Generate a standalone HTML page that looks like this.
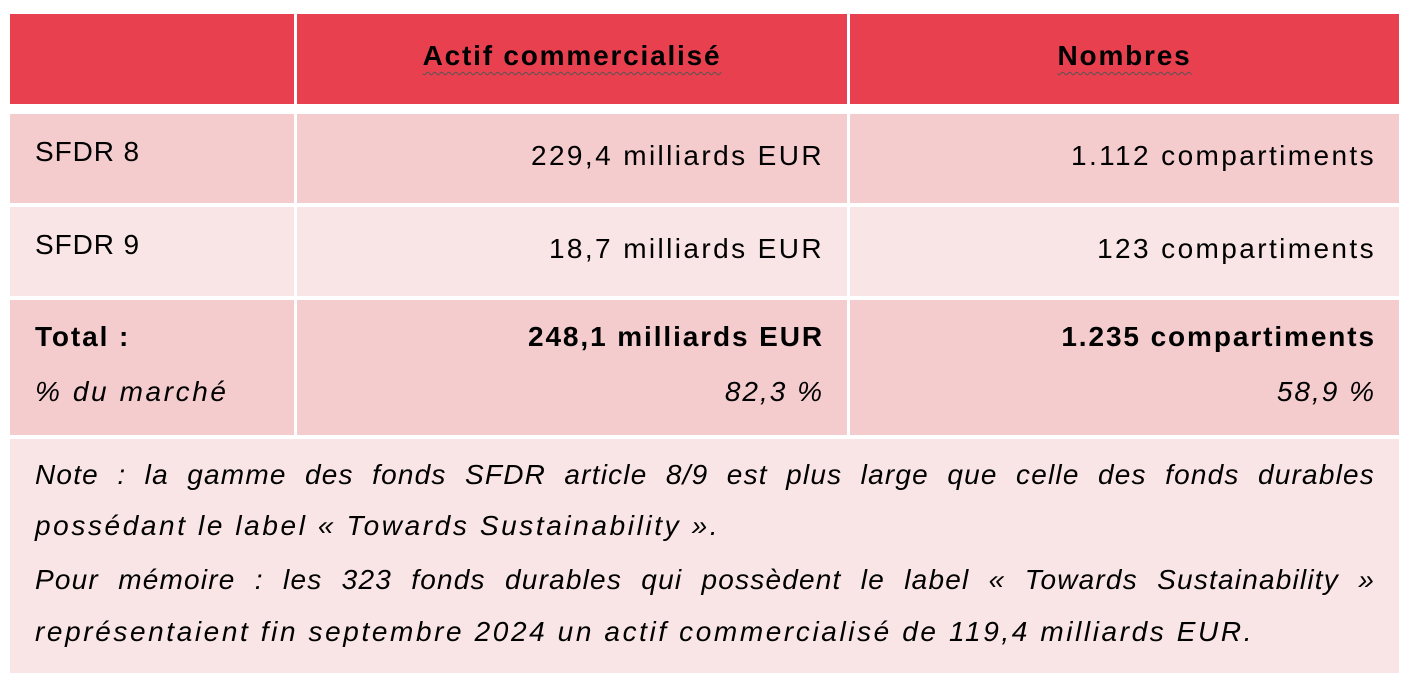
<!DOCTYPE html>
<html><head><meta charset="utf-8"><style>
body{margin:0;width:1407px;height:685px;background:#fff;position:relative;overflow:hidden;font-family:"Liberation Sans",sans-serif;color:#000}
.c{position:absolute;box-sizing:border-box}
.h{background:#E8404E}
.d{background:#F4CCCE}
.l{background:#F9E5E6}
.t{position:absolute;font-size:28px;letter-spacing:2.4px;white-space:nowrap;line-height:32px}
.r{text-align:right}
.u{text-decoration:underline wavy #555 1px;text-underline-offset:6px;font-weight:bold;letter-spacing:1.8px}
.j{position:absolute;left:35px;width:1340px;font-size:28px;letter-spacing:1.2px;line-height:32px;font-style:italic;text-align:justify;text-align-last:justify;white-space:nowrap}
.b{font-weight:bold;letter-spacing:1.9px}
.i{font-style:italic;letter-spacing:2.6px}
</style></head><body>
<div class="c h" style="left:10px;top:14px;width:284px;height:90px"></div>
<div class="c h" style="left:297px;top:14px;width:550px;height:90px"></div>
<div class="c h" style="left:850px;top:14px;width:549px;height:90px"></div>
<div class="c d" style="left:10px;top:114px;width:284px;height:89px"></div>
<div class="c d" style="left:297px;top:114px;width:550px;height:89px"></div>
<div class="c d" style="left:850px;top:114px;width:549px;height:89px"></div>
<div class="c l" style="left:10px;top:207px;width:284px;height:89px"></div>
<div class="c l" style="left:297px;top:207px;width:550px;height:89px"></div>
<div class="c l" style="left:850px;top:207px;width:549px;height:89px"></div>
<div class="c d" style="left:10px;top:300px;width:284px;height:135px"></div>
<div class="c d" style="left:297px;top:300px;width:550px;height:135px"></div>
<div class="c d" style="left:850px;top:300px;width:549px;height:135px"></div>
<div class="c l" style="left:10px;top:439px;width:1389px;height:234px"></div>

<div class="t" style="left:297px;width:550px;top:40px;text-align:center"><span class="u">Actif commercialisé</span></div>
<div class="t" style="left:850px;width:549px;top:40px;text-align:center"><span class="u">Nombres</span></div>

<div class="t" style="left:35px;top:136px;letter-spacing:0.9px">SFDR 8</div>
<div class="t r" style="right:583px;top:140px">229,4 milliards EUR</div>
<div class="t r" style="right:31px;top:140px">1.112 compartiments</div>
<div class="t" style="left:35px;top:229px;letter-spacing:0.9px">SFDR 9</div>
<div class="t r" style="right:583px;top:233px">18,7 milliards EUR</div>
<div class="t r" style="right:31px;top:233px">123 compartiments</div>
<div class="t b" style="left:35px;top:321px">Total :</div>
<div class="t i" style="left:35px;top:376px">% du marché</div>
<div class="t r b" style="right:583px;top:321px">248,1 milliards EUR</div>
<div class="t r i" style="right:583px;top:376px;letter-spacing:2px">82,3 %</div>
<div class="t r b" style="right:31px;top:321px">1.235 compartiments</div>
<div class="t r i" style="right:31px;top:376px;letter-spacing:2px">58,9 %</div>

<div class="j" style="top:459px">Note : la gamme des fonds SFDR article 8/9 est plus large que celle des fonds durables</div>
<div class="t i" style="left:35px;top:510px">possédant le label « Towards Sustainability ».</div>
<div class="j" style="top:564px">Pour mémoire : les 323 fonds durables qui possèdent le label « Towards Sustainability »</div>
<div class="t i" style="left:35px;top:616px">représentaient fin septembre 2024 un actif commercialisé de 119,4 milliards EUR.</div>
</body></html>
